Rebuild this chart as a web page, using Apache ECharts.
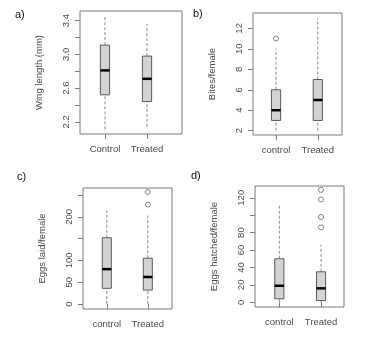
<!DOCTYPE html>
<html>
<head>
<meta charset="utf-8">
<script src="https://cdn.jsdelivr.net/npm/echarts@6/dist/echarts.min.js"></script>
<style>
  html, body { margin: 0; padding: 0; background: #fff; }
  #chart { width: 372px; height: 352px; }
</style>
</head>
<body>
<div id="chart"></div>
<script>
// group labels per panel
const groupsA = ['Control', 'Treated'];
const groupsB = ['control', 'Treated'];
const groupsC = ['control', 'Treated'];
const groupsD = ['control', 'Treated'];

// box stats: [low whisker, q1, median, q3, high whisker]
const wingControl = [2.11, 2.52, 2.81, 3.11, 3.46];
const wingTreated = [2.14, 2.44, 2.71, 2.98, 3.36];

const bitesControl = [2, 3, 4, 6, 10];
const bitesTreated = [2, 3, 5, 7, 13];
const bitesOutliersControl = [11];
const bitesOutliersTreated = [];

const laidControl = [0, 36, 80, 152, 214];
const laidTreated = [0, 32, 62, 105, 203];
const laidOutliersControl = [];
const laidOutliersTreated = [228, 257];

const hatchedControl = [0, 4, 19, 50, 113];
const hatchedTreated = [0, 2, 16, 35, 66];
const hatchedOutliersControl = [];
const hatchedOutliersTreated = [86, 98, 118, 129];

// tick values
const wingTicks = [2.2, 2.4, 2.6, 2.8, 3.0, 3.2, 3.4];
const wingLabels = [2.2, 2.6, 3.0, 3.4];
const bitesTicks = [2, 4, 6, 8, 10, 12];
const laidTicks = [0, 50, 100, 150, 200, 250];
const laidLabels = [0, 50, 100, 200];
const hatchedTicks = [0, 20, 40, 60, 80, 100, 120];
const hatchedLabels = [0, 20, 40, 60, 80, 120];

const FONT = '"Liberation Sans", Arial, sans-serif';
const FRAME = '#7a7a7a';
const TEXT = '#4a4a4a';
const HALF = 0.11;

const chart = echarts.init(document.getElementById('chart'));

function boxData(control, treated) {
  return [[1, ...control], [2, ...treated]];
}

function outlierData(ctrl, trt) {
  return ctrl.map((v) => [1, v]).concat(trt.map((v) => [2, v]));
}

function renderBox(params, api) {
  const x = api.value(0);
  const lo = api.coord([x, api.value(1)]);
  const q1 = api.coord([x, api.value(2)]);
  const md = api.coord([x, api.value(3)]);
  const q3 = api.coord([x, api.value(4)]);
  const hi = api.coord([x, api.value(5)]);
  const left = api.coord([x - HALF, api.value(3)])[0];
  const right = api.coord([x + HALF, api.value(3)])[0];
  const dash = { stroke: '#8a8a8a', lineWidth: 1, lineDash: [3, 2] };
  return {
    type: 'group',
    children: [
      { type: 'line', shape: { x1: lo[0], y1: lo[1], x2: q1[0], y2: q1[1] }, style: dash },
      { type: 'line', shape: { x1: q3[0], y1: q3[1], x2: hi[0], y2: hi[1] }, style: dash },
      {
        type: 'rect',
        shape: { x: left, y: q3[1], width: right - left, height: q1[1] - q3[1] },
        style: { fill: '#d3d3d3', stroke: '#5a5a5a', lineWidth: 1 },
      },
      {
        type: 'line',
        shape: { x1: left, y1: md[1], x2: right, y2: md[1] },
        style: { stroke: '#000', lineWidth: 2.5 },
      },
    ],
  };
}

const grids = [
  { left: 80, top: 11, width: 102, height: 123 },
  { left: 253, top: 13, width: 89, height: 122 },
  { left: 83, top: 188, width: 89, height: 121 },
  { left: 255, top: 186, width: 89, height: 121 },
].map((g) => ({ ...g, show: true, borderColor: FRAME, borderWidth: 1, backgroundColor: 'transparent' }));

function xAxis(idx, names, min, max) {
  return {
    type: 'value',
    gridIndex: idx,
    min: min,
    max: max,
    axisLine: { show: false },
    splitLine: { show: false },
    axisTick: { show: true, length: 5, lineStyle: { color: FRAME }, customValues: [1, 2] },
    axisLabel: {
      show: true,
      customValues: [1, 2],
      formatter: (v) => names[Math.round(v) - 1],
      color: TEXT,
      fontSize: 9.5,
      fontFamily: FONT,
      margin: 10,
    },
  };
}

function yAxis(idx, name, min, max, ticks, labels, fmt) {
  return {
    type: 'value',
    gridIndex: idx,
    min: min,
    max: max,
    name: name,
    nameLocation: 'middle',
    nameRotate: 90,
    nameGap: 36,
    nameTextStyle: { color: TEXT, fontSize: 9.5, fontFamily: FONT },
    axisLine: { show: false },
    splitLine: { show: false },
    axisTick: { show: true, length: 5, lineStyle: { color: FRAME }, customValues: ticks },
    axisLabel: {
      show: true,
      customValues: labels,
      rotate: 90,
      color: TEXT,
      fontSize: 9.5,
      fontFamily: FONT,
      margin: 9,
      formatter: fmt || ((v) => String(Math.round(v))),
    },
  };
}

function boxSeries(idx, data) {
  return {
    type: 'custom',
    xAxisIndex: idx,
    yAxisIndex: idx,
    renderItem: renderBox,
    encode: { x: 0, y: [1, 2, 3, 4, 5] },
    data: data,
    silent: true,
  };
}

function outlierSeries(idx, data) {
  return {
    type: 'scatter',
    xAxisIndex: idx,
    yAxisIndex: idx,
    symbol: 'circle',
    symbolSize: 5,
    itemStyle: { color: '#fff', borderColor: '#555', borderWidth: 0.9 },
    data: data,
    silent: true,
  };
}

const panelLabel = (text, left, top) => ({
  text: text,
  left: left,
  top: top,
  padding: 0,
  textStyle: { fontSize: 11, fontWeight: 'normal', color: '#111', fontFamily: FONT },
});

const option = {
  animation: false,
  backgroundColor: '#fff',
  title: [
    panelLabel('a)', 15, 9),
    panelLabel('b)', 193, 8),
    panelLabel('c)', 17, 171),
    panelLabel('d)', 191, 170),
  ],
  grid: grids,
  xAxis: [
    xAxis(0, groupsA, 0.405, 2.833),
    xAxis(1, groupsB, 0.448, 2.58),
    xAxis(2, groupsC, 0.42, 2.59),
    xAxis(3, groupsD, 0.417, 2.55),
  ],
  yAxis: [
    yAxis(0, 'Wing length (mm)', 2.055, 3.515, wingTicks, wingLabels, (v) => v.toFixed(1)),
    yAxis(1, 'Bites/female', 1.58, 13.5, bitesTicks, bitesTicks),
    yAxis(2, 'Eggs laid/female', -11.4, 266, laidTicks, laidLabels),
    yAxis(3, 'Eggs hatched/female', -5.4, 133.5, hatchedTicks, hatchedLabels),
  ],
  series: [
    boxSeries(0, boxData(wingControl, wingTreated)),
    boxSeries(1, boxData(bitesControl, bitesTreated)),
    outlierSeries(1, outlierData(bitesOutliersControl, bitesOutliersTreated)),
    boxSeries(2, boxData(laidControl, laidTreated)),
    outlierSeries(2, outlierData(laidOutliersControl, laidOutliersTreated)),
    boxSeries(3, boxData(hatchedControl, hatchedTreated)),
    outlierSeries(3, outlierData(hatchedOutliersControl, hatchedOutliersTreated)),
  ],
};

chart.setOption(option);
</script>
</body>
</html>
